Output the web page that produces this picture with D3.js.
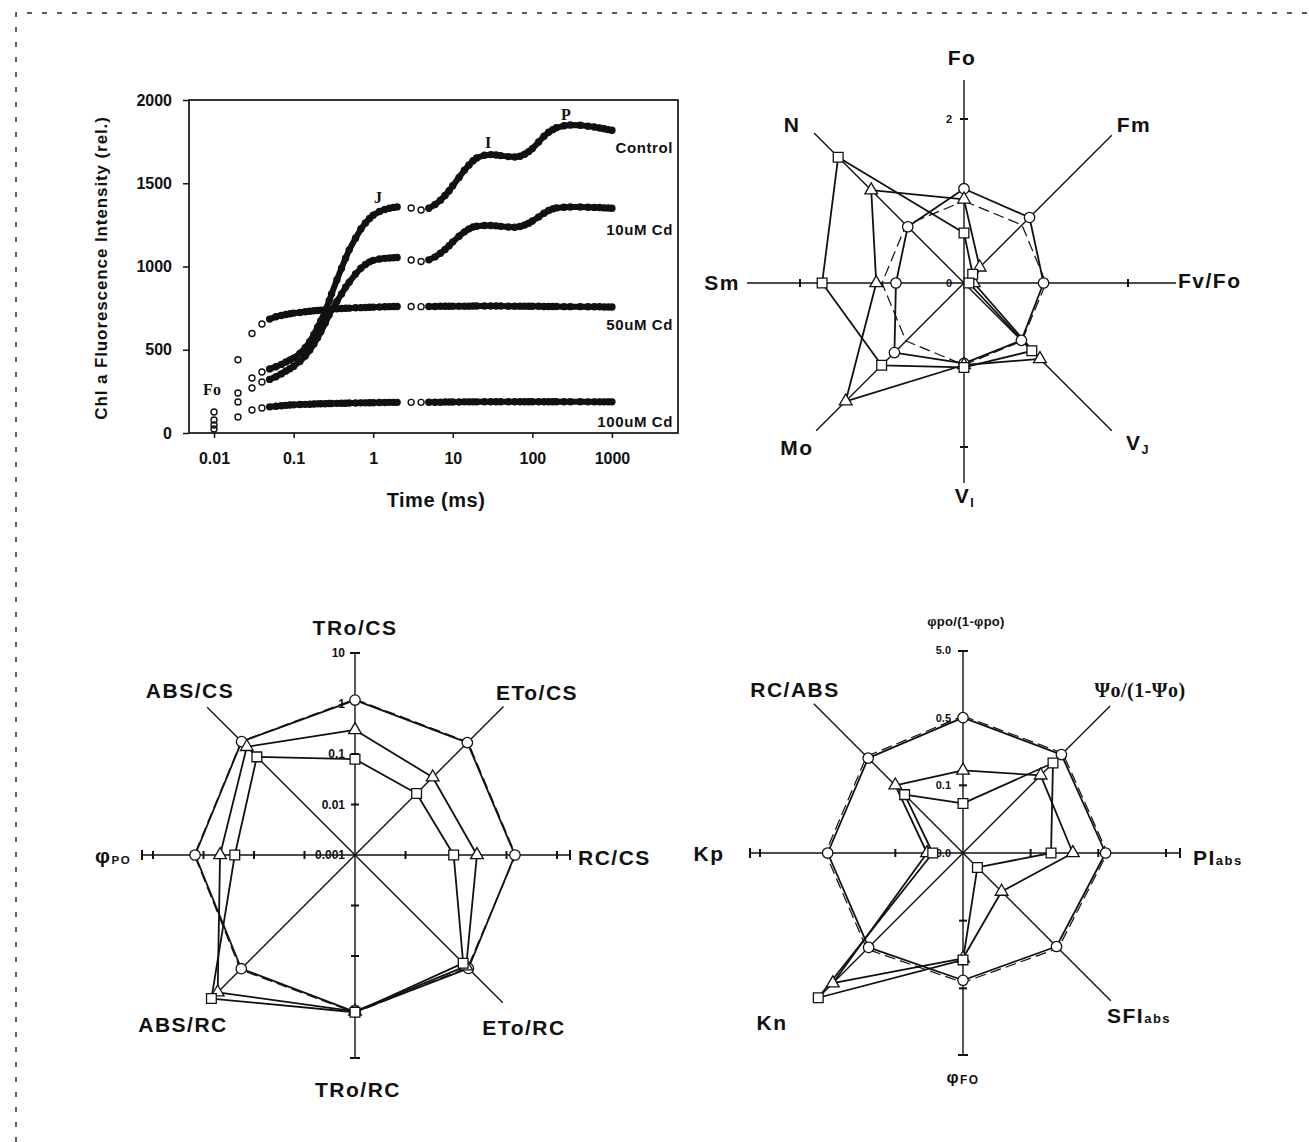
<!DOCTYPE html>
<html>
<head>
<meta charset="utf-8">
<script src="https://cdn.jsdelivr.net/npm/d3@7"></script>
<style>
  body { margin: 0; background: #fff; }
  svg text { font-family: "Liberation Sans", Arial, sans-serif; fill: #111; font-weight: bold; }
</style>
</head>
<body>
<svg id="fig" width="1309" height="1142"></svg>
<script>
/* ── OJIP transient + three radar plots (Cd treatments) ── */

// OJIP fluorescence rise, time in ms
const ojipTimes = [0.01, 0.02, 0.03, 0.04, 0.05, 0.06, 0.07, 0.08, 0.09, 0.1,
    0.12, 0.14, 0.16, 0.18, 0.2, 0.22, 0.25, 0.28, 0.3, 0.35, 0.4, 0.45, 0.5,
    0.6, 0.7, 0.8, 0.9, 1.0, 1.2, 1.4, 1.6, 1.8, 2.0,
    3, 4, 5, 6, 7, 8, 9, 10, 12, 14, 16, 18, 20, 25, 30, 35, 40,
    50, 60, 70, 80, 90, 100, 120, 140, 160, 180, 200, 250, 300,
    400, 500, 600, 700, 800, 900, 1000];
const ojipControl = [78, 240, 330, 366, 385, 398, 412, 426, 438, 450,
    478, 512, 550, 592, 635, 675, 735, 795, 835, 920, 990, 1050, 1100,
    1170, 1225, 1262, 1288, 1308, 1330, 1342, 1350, 1355, 1358,
    1351, 1339, 1350, 1372, 1398, 1426, 1455, 1485, 1535, 1578, 1610, 1635, 1652, 1668, 1672, 1670, 1666,
    1660, 1658, 1662, 1674, 1690, 1708, 1748, 1782, 1806, 1822, 1833, 1845, 1850,
    1848, 1843, 1838, 1832, 1827, 1822, 1818];
const ojip10uM = [48, 186, 270, 306, 322, 338, 355, 372, 386, 400,
    430, 462, 498, 535, 572, 608, 660, 710, 740, 790, 835, 875, 905,
    955, 990, 1012, 1028, 1037, 1045, 1049, 1051, 1053, 1054,
    1039, 1030, 1040, 1058, 1080, 1102, 1125, 1148, 1182, 1208, 1226, 1237, 1242, 1246, 1246, 1244, 1241,
    1237, 1236, 1240, 1249, 1260, 1273, 1298, 1320, 1336, 1346, 1352, 1356, 1357,
    1357, 1356, 1355, 1354, 1352, 1351, 1350];
const ojip50uM = [126, 440, 598, 655, 684, 698, 706, 712, 716, 720,
    724, 728, 731, 734, 736, 738, 741, 743, 744, 746, 748, 749, 750,
    752, 753, 754, 755, 756, 757, 758, 759, 760, 760,
    760, 759, 760, 760, 761, 761, 761, 762, 762, 762, 762, 763, 763, 763, 763, 763, 763,
    762, 762, 762, 762, 761, 761, 761, 760, 760, 760, 760, 759, 759,
    759, 758, 758, 758, 757, 757, 757];
const ojip100uM = [24, 96, 138, 150, 157, 161, 164, 166, 168, 169,
    171, 172, 173, 174, 175, 176, 176, 177, 177, 178, 179, 179, 180,
    180, 181, 181, 182, 182, 183, 183, 184, 184, 184,
    184, 184, 185, 185, 185, 186, 186, 186, 186, 187, 187, 187, 187, 188, 188, 188, 188,
    188, 188, 188, 188, 188, 188, 188, 188, 188, 188, 188, 188, 188,
    188, 187, 187, 187, 187, 187, 187];
const ojipSeriesNames = ['Control', '10uM Cd', '50uM Cd', '100uM Cd'];
const ojipYTicks = [0, 500, 1000, 1500, 2000];
const ojipXTicks = [0.01, 0.1, 1, 10, 100, 1000];
const ojipXTickLabels = ['0.01', '0.1', '1', '10', '100', '1000'];

// Radar 1: relative to control (linear)
const r1Axes = ['Fo', 'Fm', 'Fv/Fo', 'V_{J}', 'V_{I}', 'Mo', 'Sm', 'N'];
const r1Control = [1, 1, 1, 1, 1, 1, 1, 1];
const r1Cd10 = [1.15, 1.13, 0.97, 0.99, 0.98, 1.2, 0.83, 0.97];
const r1Cd50 = [1.02, 0.27, 0.12, 1.31, 1.0, 2.04, 1.07, 1.6];
const r1Cd100 = [0.61, 0.15, 0.06, 1.17, 1.03, 1.42, 1.73, 2.17];
const r1Ticks = [2, 0];
const r1TickLabels = ['2', '0'];

// Radar 2: specific fluxes (log)
const r2Axes = ['TRo/CS', 'ETo/CS', 'RC/CS', 'ETo/RC', 'TRo/RC', 'ABS/RC', 'φ_{PO}', 'ABS/CS'];
const r2Control = [1.22, 1.46, 1.52, 1.42, 1.33, 1.62, 1.52, 1.53];
const r2Cd10 = [1.17, 1.4, 1.47, 1.5, 1.28, 1.53, 1.47, 1.5];
const r2Cd50 = [0.30, 0.15, 0.26, 1.3, 1.25, 7.0, 0.47, 1.07];
const r2Cd100 = [0.079, 0.053, 0.09, 1.07, 1.3, 10.5, 0.24, 0.56];
const r2Ticks = [10, 1, 0.1, 0.01, 0.001];
const r2TickLabels = ['10', '1', '0.1', '0.01', '0.001'];

// Radar 3: performance index components (log)
const r3Axes = ['φpo/(1-φpo)', 'Ψo/(1-Ψo)', 'PI_{abs}', 'SFI_{abs}', 'φ_{FO}', 'Kn', 'Kp', 'RC/ABS'];
const r3Control = [0.53, 0.61, 0.68, 0.49, 0.41, 0.51, 0.54, 0.52];
const r3Cd10 = [0.5, 0.57, 0.64, 0.45, 0.38, 0.47, 0.5, 0.48];
const r3Cd50 = [0.083, 0.21, 0.21, 0.032, 0.18, 2.63, 0.017, 0.13];
const r3Cd100 = [0.027, 0.38, 0.1, 0.01, 0.19, 5.3, 0.014, 0.083];
const r3Ticks = [5, 0.5, 0.05, 0.005];
const r3TickLabels = ['5.0', '0.5', '0.1', '0.0'];

const INK = '#111';
const svg = d3.select('#fig');

// dashed page border (top + left)
svg.append('path')
    .attr('d', 'M16,1142V13H1309')
    .attr('fill', 'none').attr('stroke', '#222')
    .attr('stroke-width', 1.4).attr('stroke-dasharray', '5,10');

/* text with _{sub} parts */
function richText(g, x, y, str, o) {
    const t = g.append('text')
        .attr('x', x).attr('y', y)
        .attr('text-anchor', o.anchor || 'middle')
        .attr('font-size', o.size)
        .attr('letter-spacing', o.ls || 0);
    if (o.family) t.style('font-family', o.family);
    str.split(/(_\{[^}]*\})/).forEach(part => {
        if (!part) return;
        const m = part.match(/^_\{(.*)\}$/);
        if (m) {
            t.append('tspan')
                .attr('font-size', o.size * (o.subScale || 0.62))
                .attr('dy', o.subDy || 0)
                .text(m[1]);
        } else {
            t.append('tspan').text(part);
        }
    });
    return t;
}

/* ── OJIP panel ─────────────────────────────── */
(function drawOjip() {
    const X0 = 189, X1 = 678, Y0 = 100, Y1 = 433;
    const x = d3.scaleLog().domain([0.00485, 6760]).range([X0, X1]);
    const y = d3.scaleLinear().domain([0, 2000]).range([Y1, Y0]);
    const g = svg.append('g');

    g.append('rect')
        .attr('x', X0).attr('y', Y0)
        .attr('width', X1 - X0).attr('height', Y1 - Y0)
        .attr('fill', 'none').attr('stroke', INK).attr('stroke-width', 1.7);

    const yAx = g.append('g').attr('transform', `translate(${X0},0)`)
        .call(d3.axisLeft(y).tickValues(ojipYTicks).tickSize(6).tickPadding(11).tickFormat(d3.format('d')));
    const xAx = g.append('g').attr('transform', `translate(0,${Y1})`)
        .call(d3.axisBottom(x).tickValues(ojipXTicks).tickSize(5).tickPadding(15)
            .tickFormat((d, i) => ojipXTickLabels[i]));
    [yAx, xAx].forEach(a => {
        a.select('.domain').remove();
        a.selectAll('line').attr('stroke', INK).attr('stroke-width', 1.5);
        a.selectAll('text').attr('font-size', 16).attr('font-family', null).attr('fill', INK);
    });

    // axis titles
    g.append('text')
        .attr('transform', 'translate(107,268) rotate(-90)')
        .attr('text-anchor', 'middle').attr('font-size', 17).attr('letter-spacing', 0.9)
        .text('Chl  a  Fluorescence Intensity (rel.)');
    g.append('text')
        .attr('x', 436).attr('y', 507).attr('text-anchor', 'middle')
        .attr('font-size', 20).attr('letter-spacing', 0.5)
        .text('Time  (ms)');

    const allSeries = [ojipControl, ojip10uM, ojip50uM, ojip100uM];
    const line = d3.line();
    // sparsely sampled stretches (first points, and just after the 2 ms gap) stay as open circles
    const isSparse = t => t < 0.05 || (t >= 2 && t < 5);
    allSeries.forEach(vals => {
        const pts = ojipTimes.map((t, i) => [x(t), y(vals[i])]);
        const segs = [];
        let seg = [];
        for (let i = 1; i < pts.length; i++) {
            if (!isSparse(ojipTimes[i - 1])) {
                if (!seg.length) seg.push(pts[i - 1]);
                seg.push(pts[i]);
            } else if (seg.length) {
                segs.push(seg);
                seg = [];
            }
        }
        if (seg.length) segs.push(seg);
        segs.forEach(s => {
            g.append('path').attr('d', line(s))
                .attr('fill', 'none').attr('stroke', INK)
                .attr('stroke-width', 6).attr('stroke-linecap', 'round').attr('stroke-linejoin', 'round');
        });
        g.selectAll(null).data(pts).enter().append('circle')
            .attr('cx', d => d[0]).attr('cy', d => d[1]).attr('r', 3)
            .attr('fill', 'none').attr('stroke', INK).attr('stroke-width', 1.4);
    });

    // series names, right aligned
    const nameY = [153, 235, 330, 427];
    ojipSeriesNames.forEach((n, i) => {
        g.append('text').attr('x', 673).attr('y', nameY[i])
            .attr('text-anchor', 'end').attr('font-size', 15).attr('letter-spacing', 0.6)
            .text(n);
    });

    // transient markers
    const serif = '"Liberation Serif", "DejaVu Serif", serif';
    [['Fo', 212, 395], ['J', 378, 203], ['I', 488, 148], ['P', 566, 120]].forEach(([t, tx, ty]) => {
        g.append('text').attr('x', tx).attr('y', ty).attr('text-anchor', 'middle')
            .attr('font-size', 16).style('font-family', serif).text(t);
    });
})();

/* ── Radar plots ─────────────────────────────── */
function drawRadar(o) {
    const g = svg.append('g').attr('transform', `translate(${o.cx},${o.cy})`);
    const ang = i => (i * 45 - 90) * Math.PI / 180;
    const P = (i, r) => [r * Math.cos(ang(i)), r * Math.sin(ang(i))];

    // spokes
    o.spoke.forEach((L, i) => {
        const [ex, ey] = P(i, L);
        g.append('line').attr('x1', 0).attr('y1', 0).attr('x2', ex).attr('y2', ey)
            .attr('stroke', INK).attr('stroke-width', 1.4);
        if (i % 2) return;
        const nx = -Math.sin(ang(i)), ny = Math.cos(ang(i));
        o.tickValues.forEach(v => {
            const r = o.r(v);
            if (r < 3 || r > L - 4) return;
            const [tx, ty] = P(i, r);
            g.append('line')
                .attr('x1', tx - nx * 4).attr('y1', ty - ny * 4)
                .attr('x2', tx + nx * 4).attr('y2', ty + ny * 4)
                .attr('stroke', INK).attr('stroke-width', 2);
        });
        if (o.cap) {
            g.append('line')
                .attr('x1', ex - nx * 5).attr('y1', ey - ny * 5)
                .attr('x2', ex + nx * 5).attr('y2', ey + ny * 5)
                .attr('stroke', INK).attr('stroke-width', 2);
        }
    });

    // tick labels along the upper axis
    o.tickValues.forEach((v, k) => {
        g.append('text')
            .attr('x', o.tickX).attr('y', -o.r(v)).attr('dy', '0.36em')
            .attr('text-anchor', 'end').attr('font-size', o.tickFont)
            .text(o.tickLabels[k]);
    });

    // series polygons
    const poly = d3.line().curve(d3.curveLinearClosed);
    o.series.forEach((s, k) => {
        const pts = s.map((v, i) => P(i, o.r(v)));
        g.append('path').attr('d', poly(pts))
            .attr('fill', 'none').attr('stroke', INK)
            .attr('stroke-width', k === 0 ? 1.2 : 1.8)
            .attr('stroke-dasharray', k === 0 ? '11,5' : null)
            .attr('stroke-linejoin', 'round');
    });

    // markers: control has none, then circle, triangle, square
    const sym = [null, d3.symbolCircle, d3.symbolTriangle, d3.symbolSquare];
    const symSize = [0, 85, 70, 95];
    o.series.forEach((s, k) => {
        if (!sym[k]) return;
        s.forEach((v, i) => {
            const [px, py] = P(i, o.r(v));
            g.append('path').attr('d', d3.symbol(sym[k], symSize[k])())
                .attr('transform', `translate(${px},${py})`)
                .attr('fill', '#fff').attr('stroke', INK).attr('stroke-width', 1.3);
        });
    });

    // axis labels
    o.axes.forEach((name, i) => {
        const L = o.labels[i];
        richText(g, L[0], L[1], name, Object.assign({ size: 21, ls: 1.5 }, L[2] || {}));
    });
}

// Radar 1 — relative values
drawRadar({
    cx: 964, cy: 283,
    r: d3.scaleLinear().domain([0, 2]).range([0, 164]),
    spoke: [203, 209, 212, 209, 200, 209, 217, 212],
    cap: false,
    tickValues: r1Ticks, tickLabels: r1TickLabels, tickX: -12, tickFont: 11,
    series: [r1Control, r1Cd10, r1Cd50, r1Cd100],
    axes: r1Axes,
    labels: [
        [-2, -218], [170, -151], [214, 5, { anchor: 'start' }],
        [174, 167, { subDy: 4, subScale: 0.6 }], [1, 220, { subDy: 4, subScale: 0.6 }],
        [-167, 172], [-242, 7], [-172, -151]
    ]
});

// Radar 2 — fluxes per CS and RC
drawRadar({
    cx: 355, cy: 855,
    r: d3.scaleLog().domain([0.001, 10]).range([0, 202]),
    spoke: [202, 210, 215, 209, 203, 205, 213, 209],
    cap: true,
    tickValues: r2Ticks, tickLabels: r2TickLabels, tickX: -10, tickFont: 12,
    series: [r2Control, r2Cd10, r2Cd50, r2Cd100],
    axes: r2Axes,
    labels: [
        [0, -220], [182, -155], [223, 10, { anchor: 'start' }], [169, 180],
        [3, 242], [-172, 177], [-260, 8, { anchor: 'start', subScale: 0.55, subDy: 1 }], [-165, -157]
    ]
});

// Radar 3 — performance index terms
drawRadar({
    cx: 963, cy: 853,
    r: d3.scaleLog().domain([0.005, 5]).range([0, 203]),
    spoke: [202, 208, 217, 209, 202, 205, 213, 211],
    cap: true,
    tickValues: r3Ticks, tickLabels: r3TickLabels, tickX: -12, tickFont: 11,
    series: [r3Control, r3Cd10, r3Cd50, r3Cd100],
    axes: r3Axes,
    labels: [
        [3, -227, { size: 13, ls: 0.3 }],
        [177, -156, { size: 20, ls: 0.5, family: '"Liberation Serif", "DejaVu Serif", serif' }],
        [230, 12, { anchor: 'start', subScale: 0.62 }],
        [144, 170, { anchor: 'start', subScale: 0.62 }],
        [0, 230, { size: 17, subScale: 0.7, subDy: 1 }],
        [-191, 177], [-254, 8], [-168, -156]
    ]
});
</script>
</body>
</html>
